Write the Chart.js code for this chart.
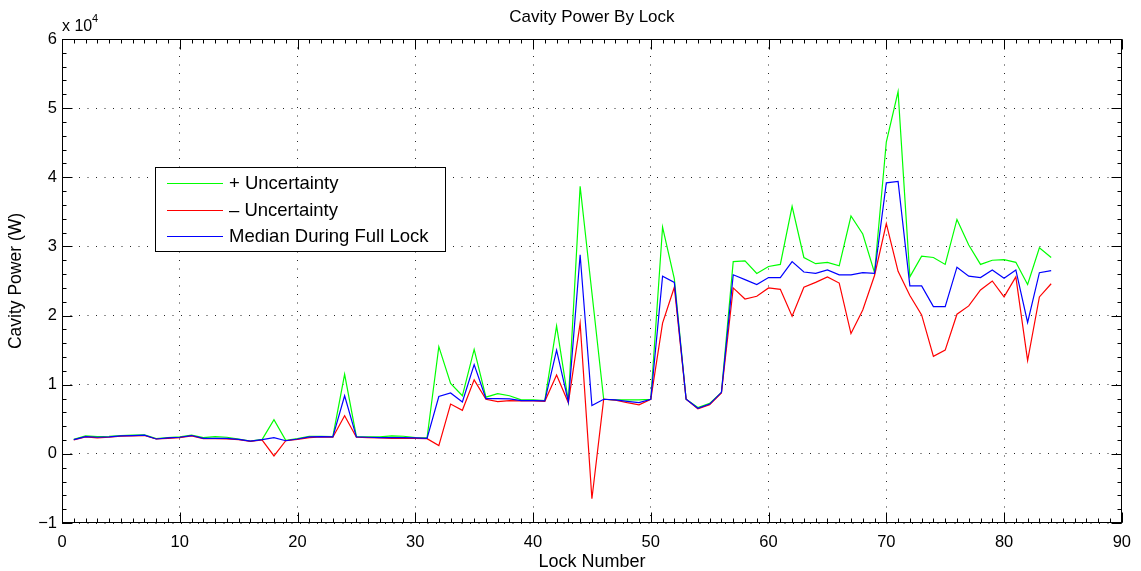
<!DOCTYPE html>
<html>
<head>
<meta charset="utf-8">
<title>Cavity Power By Lock</title>
<script src="https://cdn.jsdelivr.net/npm/chart.js"></script>
<style>
  html, body { margin: 0; padding: 0; background: #fff; }
  #wrap { width: 1141px; height: 571px; position: relative; }
</style>
</head>
<body>
<div id="wrap"><canvas id="chart"></canvas></div>
<script>
// Lock numbers (x) and cavity power readings in W (y)
const lockNumbers = [1, 2, 3, 4, 5, 6, 7, 8, 9, 10, 11, 12, 13, 14, 15, 16, 17, 18, 19, 20,
    21, 22, 23, 24, 25, 26, 27, 28, 29, 30, 31, 32, 33, 34, 35, 36, 37, 38, 39, 40,
    41, 42, 43, 44, 45, 46, 47, 48, 49, 50, 51, 52, 53, 54, 55, 56, 57, 58, 59, 60,
    61, 62, 63, 64, 65, 66, 67, 68, 69, 70, 71, 72, 73, 74, 75, 76, 77, 78, 79, 80,
    81, 82, 83, 84];

const plusUncertainty = [2100, 2600, 2500, 2550, 2650, 2700, 2750, 2200, 2350, 2450,
    2700, 2350, 2500, 2400, 2150, 1850, 2100, 4950, 1950, 2200,
    2550, 2550, 2500, 11500, 2500, 2450, 2450, 2600, 2550, 2350,
    2300, 15500, 10200, 8400, 15100, 8200, 8700, 8400, 7800, 7800,
    7700, 18500, 7600, 38700, 23300, 7900, 7800, 7800, 7800, 7900,
    32800, 25300, 7900, 6700, 7300, 8900, 27800, 27900, 26100, 27100,
    27400, 35800, 28400, 27500, 27700, 27200, 34400, 31800, 26200, 45100,
    52400, 25600, 28600, 28400, 27400, 33900, 30200, 27400, 28000, 28100,
    27700, 24500, 29800, 28400];

const minusUncertainty = [2000, 2450, 2300, 2400, 2550, 2600, 2650, 2150, 2250, 2350,
    2600, 2200, 2200, 2150, 2050, 1800, 2000, -300, 1900, 2100,
    2350, 2450, 2400, 5500, 2400, 2350, 2300, 2250, 2250, 2250,
    2200, 1200, 7200, 6300, 10700, 7900, 7550, 7700, 7650, 7650,
    7600, 11400, 7400, 18900, -6500, 7900, 7750, 7400, 7100, 7900,
    18900, 24100, 7900, 6500, 7100, 8800, 24000, 22400, 22800, 24000,
    23800, 19900, 24100, 24800, 25600, 24700, 17400, 20800, 25800, 33300,
    26400, 22900, 20100, 14100, 15000, 20200, 21400, 23700, 25000, 22700,
    25600, 13500, 22700, 24600];

const medianPower = [2050, 2500, 2400, 2450, 2600, 2650, 2700, 2150, 2300, 2400,
    2650, 2250, 2250, 2250, 2100, 1850, 2050, 2350, 1900, 2150,
    2450, 2500, 2450, 8400, 2450, 2400, 2350, 2350, 2350, 2300,
    2250, 8300, 8800, 7500, 12900, 8000, 8000, 7950, 7700, 7700,
    7650, 15000, 7500, 28800, 7000, 7900, 7800, 7600, 7400, 7900,
    25700, 24800, 7900, 6600, 7200, 8900, 25900, 25200, 24500, 25500,
    25500, 27800, 26300, 26100, 26600, 25900, 25900, 26200, 26100, 39200,
    39400, 24300, 24300, 21300, 21300, 27000, 25700, 25500, 26600, 25400,
    26600, 19000, 26200, 26500];

const seriesLabels = ['+ Uncertainty', '\u2013 Uncertainty', 'Median During Full Lock'];
const xTickValues = [0, 10, 20, 30, 40, 50, 60, 70, 80, 90];
const yTickValues = [-10000, 0, 10000, 20000, 30000, 40000, 50000, 60000];
const chartTitle = 'Cavity Power By Lock';

const FONT = '"Liberation Sans", Arial, Helvetica, sans-serif';

function toPoints(values) {
    return lockNumbers.map((n, i) => ({ x: n, y: values[i] }));
}

// MATLAB-like box, inward ticks, title, legend and the x10^4 multiplier
const matlabFrame = {
    id: 'matlabFrame',
    afterDatasetsDraw(chart) {
        const { ctx, chartArea: a, scales: { x, y } } = chart;
        const L = Math.round(a.left) + 0.5, R = Math.round(a.right) - 0.5;
        const T = Math.round(a.top) + 0.5, B = Math.round(a.bottom) - 0.5;
        ctx.save();
        ctx.strokeStyle = '#000';
        ctx.lineWidth = 1;
        ctx.beginPath();
        // minor ticks
        for (let v = x.min; v <= x.max; v += 1) {
            const px = Math.round(x.getPixelForValue(v)) + 0.5;
            ctx.moveTo(px, B); ctx.lineTo(px, B - 4);
            ctx.moveTo(px, T); ctx.lineTo(px, T + 4);
        }
        for (let v = y.min; v <= y.max; v += 2000) {
            const py = Math.round(y.getPixelForValue(v)) + 0.5;
            ctx.moveTo(L, py); ctx.lineTo(L + 4, py);
            ctx.moveTo(R, py); ctx.lineTo(R - 4, py);
        }
        // major ticks
        xTickValues.forEach(v => {
            const px = Math.round(x.getPixelForValue(v)) + 0.5;
            ctx.moveTo(px, B); ctx.lineTo(px, B - 10);
            ctx.moveTo(px, T); ctx.lineTo(px, T + 10);
        });
        yTickValues.forEach(v => {
            const py = Math.round(y.getPixelForValue(v)) + 0.5;
            ctx.moveTo(L, py); ctx.lineTo(L + 10, py);
            ctx.moveTo(R, py); ctx.lineTo(R - 10, py);
        });
        ctx.stroke();
        ctx.strokeRect(L, T, R - L, B - T);
        ctx.restore();
    },
    afterDraw(chart) {
        const { ctx, chartArea: a } = chart;
        ctx.save();
        ctx.fillStyle = '#000';

        // title, centred over the axes
        ctx.font = '17px ' + FONT;
        ctx.textAlign = 'center';
        ctx.textBaseline = 'middle';
        ctx.fillText(chartTitle, (a.left + a.right) / 2, 17);

        // exponent label
        ctx.textBaseline = 'alphabetic';
        ctx.textAlign = 'left';
        ctx.font = '16px ' + FONT;
        ctx.fillText('x 10', 62, 31);
        ctx.font = '11px ' + FONT;
        ctx.fillText('4', 92, 22);

        // legend box
        const bx = 155.5, by = 167.5, bw = 290, bh = 84;
        ctx.fillStyle = '#fff';
        ctx.fillRect(bx, by, bw, bh);
        ctx.strokeStyle = '#000';
        ctx.lineWidth = 1;
        ctx.strokeRect(bx, by, bw, bh);
        ctx.font = '18.5px ' + FONT;
        ctx.textBaseline = 'middle';
        const rows = [183.5, 210.5, 236.5];
        chart.data.datasets.forEach(ds => {
            const ly = rows[ds.legendIndex];
            ctx.strokeStyle = ds.borderColor;
            ctx.beginPath();
            ctx.moveTo(167, ly);
            ctx.lineTo(223, ly);
            ctx.stroke();
            ctx.fillStyle = '#000';
            ctx.fillText(ds.label, 229, ly + 0.5);
        });
        ctx.restore();
    }
};

const ctx = document.getElementById('chart').getContext('2d');
new Chart(ctx, {
    type: 'line',
    data: {
        datasets: [
            {
                label: seriesLabels[0],
                legendIndex: 0,
                data: toPoints(plusUncertainty),
                borderColor: '#00ff00',
                order: 2
            },
            {
                label: seriesLabels[1],
                legendIndex: 1,
                data: toPoints(minusUncertainty),
                borderColor: '#ff0000',
                order: 1
            },
            {
                label: seriesLabels[2],
                legendIndex: 2,
                data: toPoints(medianPower),
                borderColor: '#0000ff',
                order: 0
            }
        ]
    },
    options: {
        responsive: true,
        maintainAspectRatio: false,
        animation: false,
        elements: {
            line: { borderWidth: 1.2, tension: 0, fill: false },
            point: { radius: 0, hoverRadius: 0 }
        },
        layout: { padding: { left: 0, right: 14, top: 39, bottom: 0 } },
        plugins: {
            legend: { display: false },
            tooltip: { enabled: false },
            title: { display: false }
        },
        scales: {
            x: {
                type: 'linear',
                min: 0,
                max: 90,
                afterBuildTicks: s => { s.ticks = xTickValues.map(v => ({ value: v })); },
                afterFit: s => { s.height = 48; },
                grid: { color: 'rgba(0,0,0,0.85)', lineWidth: 1, drawTicks: false },
                border: { display: false, dash: [1, 7.5] },
                ticks: {
                    color: '#000',
                    font: { family: FONT, size: 16.5 },
                    padding: 10,
                    maxRotation: 0
                },
                title: {
                    display: true,
                    text: 'Lock Number',
                    color: '#000',
                    font: { family: FONT, size: 18, lineHeight: 1.0 },
                    padding: { top: 0, bottom: 0 }
                }
            },
            y: {
                min: -10000,
                max: 60000,
                afterBuildTicks: s => { s.ticks = yTickValues.map(v => ({ value: v })); },
                afterFit: s => { s.width = 62; },
                grid: { color: 'rgba(0,0,0,0.85)', lineWidth: 1, drawTicks: false },
                border: { display: false, dash: [1, 7.5] },
                ticks: {
                    color: '#000',
                    font: { family: FONT, size: 16.5 },
                    padding: 5,
                    callback: v => String(v / 10000).replace('-', '\u2212')
                },
                title: {
                    display: true,
                    text: 'Cavity Power (W)',
                    color: '#000',
                    font: { family: FONT, size: 17.5 },
                    padding: { top: 6, bottom: 0 }
                }
            }
        }
    },
    plugins: [matlabFrame]
});
</script>
</body>
</html>
